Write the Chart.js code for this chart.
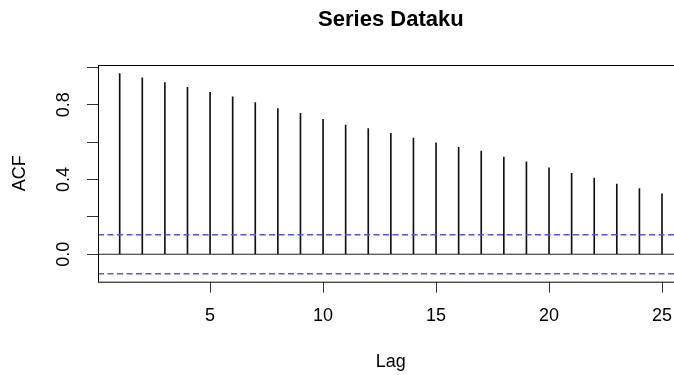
<!DOCTYPE html>
<html>
<head>
<meta charset="utf-8">
<script src="https://cdn.jsdelivr.net/npm/chart.js@4"></script>
<style>
    html, body { margin: 0; padding: 0; background: #fff; overflow: hidden; }
    #acfChart { display: block; }
</style>
</head>
<body>
<canvas id="acfChart" width="720" height="375"></canvas>
<script>
const lags = [1, 2, 3, 4, 5, 6, 7, 8, 9, 10, 11, 12, 13, 14, 15, 16, 17, 18, 19, 20, 21, 22, 23, 24, 25];
const acfValues = [0.967, 0.944, 0.919, 0.894, 0.867, 0.842, 0.812, 0.780, 0.754, 0.722,
                   0.692, 0.672, 0.647, 0.622, 0.597, 0.572, 0.552, 0.520, 0.495, 0.463,
                   0.433, 0.408, 0.375, 0.351, 0.324];
const ciBound = 0.104; // limites de confianza (linea azul)
const xTicks = [5, 10, 15, 20, 25];
const yTicks = [0, 0.2, 0.4, 0.6, 0.8, 1.0];
const yLabelValues = [0, 0.4, 0.8];
const yLabelTexts = ['0.0', '0.4', '0.8'];

const xMin = 0.04, xMax = 25.96;
const yMin = -0.147, yMax = 1.013;

Chart.defaults.font.family = '"Liberation Sans", Arial, sans-serif';
Chart.defaults.color = '#000';

// caja alrededor del area y etiquetas del eje y giradas (como en R)
const rBoxPlugin = {
    id: 'rBox',
    afterDraw(chart) {
        const ctx = chart.ctx;
        const area = chart.chartArea;
        const yScale = chart.scales.y;
        ctx.save();
        ctx.strokeStyle = '#000';
        ctx.lineWidth = 1;
        ctx.strokeRect(area.left + 0.5, area.top + 0.5, area.right - area.left, area.bottom - area.top);

        ctx.fillStyle = '#000';
        ctx.font = '18px "Liberation Sans", Arial, sans-serif';
        ctx.textAlign = 'center';
        ctx.textBaseline = 'middle';
        for (let i = 0; i < yLabelValues.length; i++) {
            const py = yScale.getPixelForValue(yLabelValues[i]);
            ctx.save();
            ctx.translate(area.left - 33.5, py);
            ctx.rotate(-Math.PI / 2);
            ctx.fillText(yLabelTexts[i], 0, 0);
            ctx.restore();
        }
        ctx.restore();
    }
};

const ctx = document.getElementById('acfChart').getContext('2d');
new Chart(ctx, {
    type: 'bar',
    data: {
        datasets: [
            {
                type: 'line',
                data: [{x: xMin, y: ciBound}, {x: xMax, y: ciBound}],
                borderColor: '#5353ff',
                borderWidth: 1.5,
                borderDash: [6, 3.5],
                pointRadius: 0
            },
            {
                type: 'line',
                data: [{x: xMin, y: -ciBound}, {x: xMax, y: -ciBound}],
                borderColor: '#5353ff',
                borderWidth: 1.5,
                borderDash: [6, 3.5],
                pointRadius: 0
            },
            {
                type: 'line',
                data: [{x: xMin, y: 0}, {x: xMax, y: 0}],
                borderColor: '#222',
                borderWidth: 1,
                pointRadius: 0
            },
            {
                label: 'ACF',
                data: lags.map((l, i) => ({x: l, y: acfValues[i]})),
                backgroundColor: '#111',
                barThickness: 1
            }
        ]
    },
    options: {
        responsive: false,
        animation: false,
        devicePixelRatio: 1,
        layout: { padding: { left: 0, right: 36.3, top: 0, bottom: 0 } },
        plugins: {
            legend: { display: false },
            tooltip: { enabled: false },
            title: {
                display: true,
                fullSize: false,
                text: 'Series Dataku',
                font: { size: 22, weight: 'bold' },
                color: '#000',
                padding: { top: 7, bottom: 31.6 }
            }
        },
        scales: {
            x: {
                type: 'linear',
                min: xMin,
                max: xMax,
                offset: false,
                afterBuildTicks: (scale) => { scale.ticks = xTicks.map(v => ({value: v})); },
                afterFit: (scale) => { scale.height = 93.3; },
                grid: { offset: false, drawOnChartArea: false, drawTicks: true, tickLength: 11, color: '#333' },
                border: { display: false },
                ticks: { font: { size: 18 }, color: '#000', padding: 13, maxRotation: 0 },
                title: { display: true, text: 'Lag', font: { size: 18 }, color: '#000', padding: { top: 0, bottom: 2 } }
            },
            y: {
                type: 'linear',
                min: yMin,
                max: yMax,
                afterBuildTicks: (scale) => { scale.ticks = yTicks.map(v => ({value: v})); },
                afterFit: (scale) => { scale.width = 98; },
                grid: { drawOnChartArea: false, drawTicks: true, tickLength: 11, color: '#333' },
                border: { display: false },
                ticks: { display: false },
                title: { display: true, text: 'ACF', font: { size: 18 }, color: '#000', padding: { top: 9.7, bottom: 0 } }
            }
        }
    },
    plugins: [rBoxPlugin]
});
</script>
</body>
</html>
